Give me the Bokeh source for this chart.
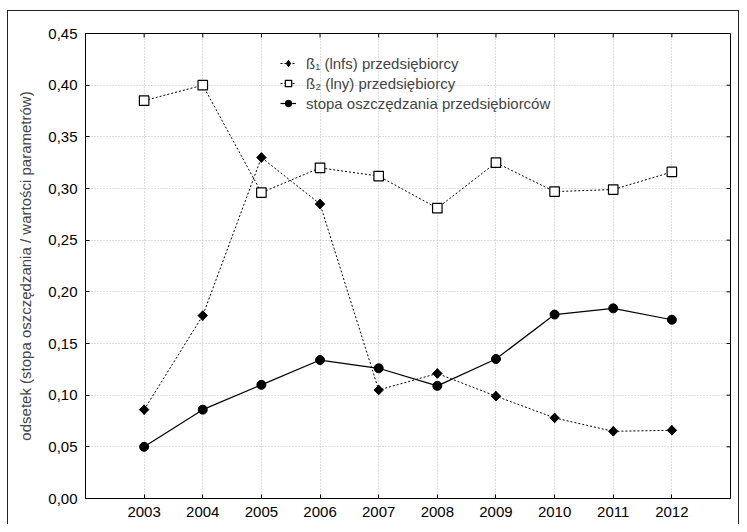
from bokeh.plotting import figure
from bokeh.models import FixedTicker, Legend, LegendItem, Range1d
from bokeh.embed import file_html
from bokeh.resources import INLINE

years = [2003, 2004, 2005, 2006, 2007, 2008, 2009, 2010, 2011, 2012]
beta1 = [0.086, 0.177, 0.330, 0.285, 0.105, 0.121, 0.099, 0.078, 0.065, 0.066]
beta2 = [0.385, 0.400, 0.296, 0.320, 0.312, 0.281, 0.325, 0.297, 0.299, 0.316]
savings = [0.050, 0.086, 0.110, 0.134, 0.126, 0.109, 0.135, 0.178, 0.184, 0.173]

y_ticks = [0.0, 0.05, 0.10, 0.15, 0.20, 0.25, 0.30, 0.35, 0.40, 0.45]
y_tick_labels = ["0,00", "0,05", "0,10", "0,15", "0,20", "0,25", "0,30", "0,35", "0,40", "0,45"]
series_labels = ["ß\u2081 (lnfs) przedsiębiorcy", "ß\u2082 (lny) przedsiębiorcy",
                 "stopa oszczędzania przedsiębiorców"]
y_title = "odsetek (stopa oszczędzania / wartości parametrów)"

FONT = "Liberation Sans"
FS = "15px"
X0, X1 = 2002, 2013
Y0, Y1 = 0.0, 0.45

W, H = 739, 524
ML, MR, MT, MB = 85, 9, 33, 26

p = figure(width=W, height=H, output_backend="svg", toolbar_location=None,
           x_range=Range1d(X0, X1), y_range=Range1d(Y0, Y1),
           min_border_left=ML, min_border_right=MR, min_border_top=MT, min_border_bottom=MB)
p.border_fill_color = None
p.background_fill_color = "white"
p.outline_line_color = "black"
p.outline_line_width = 1
p.styles = {"box-shadow": "inset 7px 10px 0 0 #fff, inset 8px 11px 0 0 #222, inset -1px 0 0 0 #222"}

# axes
for ax in p.xaxis:
    ax.ticker = FixedTicker(ticks=years)
for ax in p.yaxis:
    ax.ticker = FixedTicker(ticks=y_ticks)
    ax.major_label_overrides = {t: l for t, l in zip(y_ticks, y_tick_labels)}
    ax.axis_label = y_title
    ax.axis_label_text_font = FONT
    ax.axis_label_text_font_size = FS
    ax.axis_label_text_font_style = "normal"
    ax.axis_label_standoff = 11
for ax in list(p.xaxis) + list(p.yaxis):
    ax.major_label_text_font = FONT
    ax.major_label_text_font_size = FS
    ax.major_label_text_color = "black"
    ax.major_tick_in = 4
    ax.major_tick_out = 0
    ax.minor_tick_in = 0
    ax.minor_tick_out = 0
    ax.axis_line_color = "black"
    ax.major_tick_line_color = "black"
    ax.major_label_standoff = 8

# inward ticks on the top and right edges of the frame (4 px long)
frame_w = W - ML - MR
frame_h = H - MT - MB
dx = 4 * (X1 - X0) / frame_w
dy = 4 * (Y1 - Y0) / frame_h
p.segment(x0=years, y0=[Y1] * len(years), x1=years, y1=[Y1 - dy] * len(years),
          line_color="black", line_width=1)
p.segment(x0=[X1] * len(y_ticks), y0=y_ticks, x1=[X1 - dx] * len(y_ticks), y1=y_ticks,
          line_color="black", line_width=1)

# grid
p.xgrid.ticker = FixedTicker(ticks=years)
p.ygrid.ticker = FixedTicker(ticks=y_ticks)
for g in (p.xgrid[0], p.ygrid[0]):
    g.grid_line_color = "#bdbdbd"
    g.grid_line_dash = "1 2"
    g.grid_line_width = 1

# series
l1 = p.line(years, beta1, line_color="black", line_width=1, line_dash="2 2")
m1 = p.scatter(years, beta1, marker="square", angle=0.785398, size=6.7,
               fill_color="black", line_color="black")
m1_key = p.scatter(years, beta1, marker="diamond", size=9.5, fill_color="black", line_color="black")
l2 = p.line(years, beta2, line_color="black", line_width=1, line_dash="2 2")
m2 = p.scatter(years, beta2, marker="square", size=9.5, fill_color="white", line_color="black",
               line_width=1.2)
l3 = p.line(years, savings, line_color="black", line_width=1.2)
m3 = p.scatter(years, savings, marker="circle", size=9, fill_color="black", line_color="black")

legend = Legend(items=[
    LegendItem(label=series_labels[0], renderers=[l1, m1_key]),
    LegendItem(label=series_labels[1], renderers=[l2, m2]),
    LegendItem(label=series_labels[2], renderers=[l3, m3]),
], location=(195, 385))
legend.label_text_font = FONT
legend.label_text_font_size = FS
legend.label_height = 20
legend.glyph_height = 20
legend.glyph_width = 16
legend.label_standoff = 10
legend.spacing = 0
legend.padding = 0
legend.margin = 0
legend.border_line_color = None
legend.background_fill_alpha = 0
p.add_layout(legend, "center")

open("out.html", "w").write(file_html(p, INLINE))
